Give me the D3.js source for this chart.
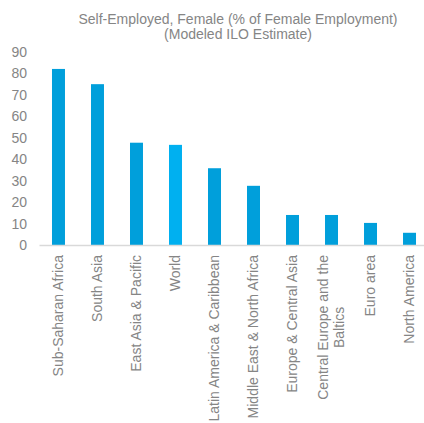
<!DOCTYPE html>
<html>
<head>
<meta charset="utf-8">
<script src="https://cdn.jsdelivr.net/npm/d3@7"></script>
<style>
  html, body { margin: 0; padding: 0; background: #ffffff; }
  svg { display: block; font-family: "Liberation Sans", Arial, sans-serif; }
</style>
</head>
<body>
<svg id="chart" width="424" height="423"></svg>
<script>
// Regions and their share of women who are self-employed (%)
const categories = [
  "Sub-Saharan Africa", "South Asia", "East Asia & Pacific", "World",
  "Latin America & Caribbean", "Middle East & North Africa",
  "Europe & Central Asia", "Central Europe and the Baltics",
  "Euro area", "North America"
];
const values = [82.1, 75.0, 47.7, 46.7, 35.8, 27.6, 14.0, 14.0, 10.3, 5.7];
const highlighted = ["World"];
const yTicks = [0, 10, 20, 30, 40, 50, 60, 70, 80, 90];
const titleLines = [
  "Self-Employed, Female (% of Female Employment)",
  "(Modeled ILO Estimate)"
];

const svg = d3.select("#chart");
const textColor = "#858585";

const x = d3.scaleBand()
  .domain(categories)
  .range([39, 429])
  .paddingInner(0.667)
  .paddingOuter(0.333);

const y = d3.scaleLinear()
  .domain([0, 90])
  .range([245, 52]);

// Title
svg.append("g")
  .selectAll("text")
  .data(titleLines)
  .join("text")
  .attr("x", 238)
  .attr("y", (d, i) => 24 + i * 14.5)
  .attr("text-anchor", "middle")
  .attr("font-size", 14)
  .attr("fill", textColor)
  .text(d => d);

// Y axis (labels only)
const yAxis = svg.append("g")
  .attr("transform", "translate(27,0)")
  .call(d3.axisLeft(y).tickValues(yTicks).tickSize(0).tickPadding(0));
yAxis.select(".domain").remove();
yAxis.selectAll("text")
  .attr("font-size", 14)
  .attr("font-family", "Liberation Sans, Arial, sans-serif")
  .attr("fill", textColor);

// Bars
svg.append("g")
  .selectAll("rect")
  .data(categories)
  .join("rect")
  .attr("x", d => x(d))
  .attr("width", x.bandwidth())
  .attr("y", (d, i) => y(values[i]))
  .attr("height", (d, i) => y(0) - y(values[i]))
  .attr("fill", d => highlighted.includes(d) ? "#00B0F0" : "#009FDB");

// Baseline
const xAxis = svg.append("g")
  .attr("transform", `translate(0,${y(0)})`)
  .call(d3.axisBottom(x).tickSize(0).tickFormat(""));
xAxis.select(".domain")
  .attr("stroke", "#d9d9d9")
  .attr("stroke-width", 1.5);

// Category labels, rotated; long names wrap onto a second centred line
const labelTop = 255;
const labels = svg.append("g")
  .selectAll("g")
  .data(categories)
  .join("g")
  .attr("transform", d => `translate(${x(d) + x.bandwidth() / 2},${labelTop}) rotate(-90)`);

labels.each(function (d) {
  const g = d3.select(this);
  const lines = d === "Central Europe and the Baltics"
    ? ["Central Europe and the", "Baltics"]
    : [d];
  const lh = 16;
  const off = -(lines.length - 1) * lh / 2;
  const first = g.append("text")
    .attr("x", 0)
    .attr("y", off)
    .attr("dy", "0.35em")
    .attr("text-anchor", "end")
    .attr("font-size", 14)
    .attr("fill", textColor)
    .text(lines[0]);
  if (lines.length > 1) {
    const w = first.node().getComputedTextLength();
    g.append("text")
      .attr("x", -w / 2)
      .attr("y", off + lh)
      .attr("dy", "0.35em")
      .attr("text-anchor", "middle")
      .attr("font-size", 14)
      .attr("fill", textColor)
      .text(lines[1]);
  }
});
</script>
</body>
</html>
